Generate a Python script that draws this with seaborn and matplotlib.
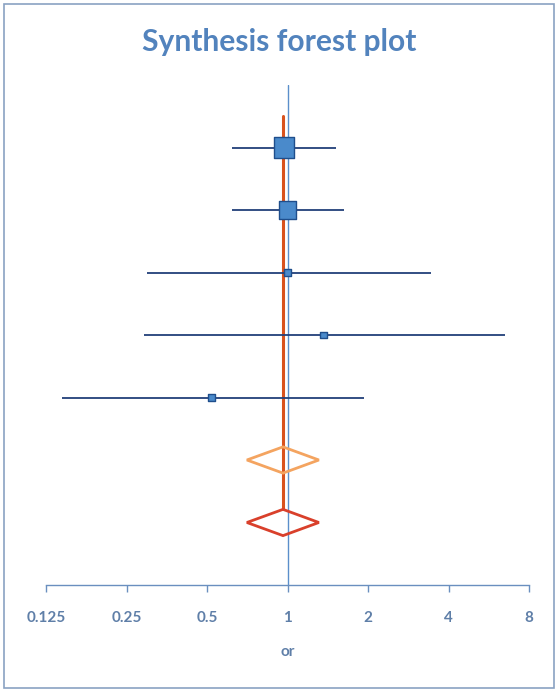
import matplotlib
matplotlib.use("Agg")
import matplotlib.pyplot as plt
import pandas as pd
import seaborn as sns
from matplotlib.patches import Polygon, Rectangle
from matplotlib.ticker import FixedLocator, FuncFormatter, NullLocator

# Study data (odds ratios with 95% CI)
study_or = [0.97, 1.00, 1.00, 1.36, 0.52]
study_lo = [0.62, 0.62, 0.298, 0.29, 0.144]
study_hi = [1.52, 1.63, 3.44, 6.5, 1.93]
study_weight = [35.0, 27.0, 5.0, 5.0, 5.0]
study_row = [7, 6, 5, 4, 3]

# Pooled estimates (fixed, random)
pooled_or = [0.962, 0.962]
pooled_lo = [0.705, 0.705]
pooled_hi = [1.31, 1.31]
pooled_row = [2, 1]
pooled_colors = ["#F4A460", "#D9402B"]

tick_values = [0.125, 0.25, 0.5, 1, 2, 4, 8]

df = pd.DataFrame({"or": study_or, "lo": study_lo, "hi": study_hi,
                   "weight": study_weight, "row": study_row})

sns.set_style("white")
plt.rcParams["font.family"] = ["Lato", "DejaVu Sans"]

fig = plt.figure(figsize=(5.59, 6.92), dpi=100)
ax = fig.add_axes([46 / 559, 1 - 585 / 692, 483 / 559, 500 / 692])

# reference line at or = 1
ax.axvline(1, color="#5B8FCB", lw=1.0, zorder=1)

# summary estimate line
ax.plot([pooled_or[1], pooled_or[1]], [7.5, pooled_row[1] + 0.21],
        color="#D9531E", lw=2.2, zorder=2)

# confidence intervals
ax.hlines(df["row"], df["lo"], df["hi"], color="#22407A", lw=1.3, zorder=3)

# study squares
sns.scatterplot(data=df, x="or", y="row", size="weight", sizes=(25, 210),
                size_norm=(5, 35), marker="s", color="#4A8ACB",
                edgecolor="#1F4E8C", linewidth=1.0, legend=False, ax=ax, zorder=4)

# pooled diamonds
for est, lo, hi, row, col in zip(pooled_or, pooled_lo, pooled_hi, pooled_row, pooled_colors):
    h = 0.21
    diamond = Polygon([[lo, row], [est, row + h], [hi, row], [est, row - h]],
                      closed=True, fill=False, edgecolor=col, lw=2.0, zorder=5)
    ax.add_patch(diamond)

ax.set_xscale("log", base=2)
ax.set_xlim(0.125, 8)
ax.set_ylim(0, 8)
ax.xaxis.set_major_locator(FixedLocator(tick_values))
ax.xaxis.set_minor_locator(NullLocator())
ax.xaxis.set_major_formatter(FuncFormatter(lambda v, p: f"{v:g}"))
ax.set_yticks([])
ax.set_ylabel("")

for s in ["top", "left", "right"]:
    ax.spines[s].set_visible(False)
ax.spines["bottom"].set_color("#6A8FBF")
ax.spines["bottom"].set_linewidth(1.0)
ax.tick_params(axis="x", bottom=True, direction="out", length=5, width=1.0,
               color="#6A8FBF", labelcolor="#5F7FA8", labelsize=11, pad=14)
for lab in ax.get_xticklabels():
    lab.set_fontweight("bold")

ax.set_xlabel("or", color="#5F7FA8", fontsize=11, fontweight="bold", labelpad=14)

fig.text(0.5, 1 - 42 / 692, "Synthesis forest plot", ha="center", va="center",
         fontsize=21.6, fontweight="bold", color="#5283BD")

fig.patches.append(Rectangle((4 / 559, 4 / 692), 550 / 559, 684 / 692,
                             transform=fig.transFigure, fill=False,
                             edgecolor="#8AA2C2", lw=1.2))

fig.savefig("out.png", dpi=100)
